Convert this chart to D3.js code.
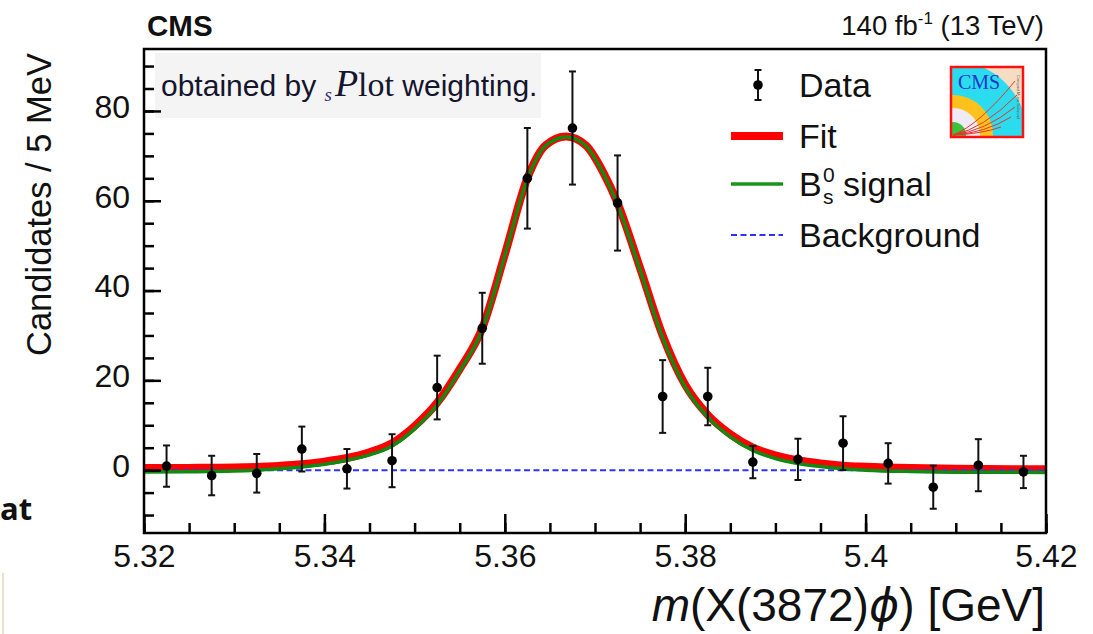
<!DOCTYPE html>
<html>
<head>
<meta charset="utf-8">
<script src="https://cdn.jsdelivr.net/npm/d3@7"></script>
<style>
    body { margin: 0; background: #fff; }
    svg text { font-family: "Liberation Sans", Arial, Helvetica, sans-serif; fill: #111; }
</style>
</head>
<body>
<div id="grafico-contenedor"></div>
<script>
/**************************************************
 * Data - sPlot weighted candidates (5 MeV bins)
***************************************************/
const massBins = [5.3225, 5.3275, 5.3325, 5.3375, 5.3425, 5.3475, 5.3525, 5.3575, 5.3625, 5.3675,
                  5.3725, 5.3775, 5.3825, 5.3875, 5.3925, 5.3975, 5.4025, 5.4075, 5.4125, 5.4175];
const candidates = [0.9, -1.2, -0.7, 4.7, 0.3, 2.1, 18.4, 31.6, 65.0, 76.2,
                    59.5, 16.4, 16.4, 1.8, 2.4, 6.0, 1.5, -3.8, 1.1, -0.4];
const candErrors = [4.6, 4.4, 4.3, 5.0, 4.4, 5.9, 7.1, 7.9, 11.2, 12.6,
                    10.6, 8.1, 6.4, 3.6, 4.6, 6.0, 4.5, 4.8, 5.8, 3.6];

// fit curves
const fitMass = [5.3200, 5.3250, 5.3300, 5.3350, 5.3375, 5.3400, 5.3425, 5.3450, 5.3475, 5.3500,
                 5.3525, 5.3550, 5.3575, 5.3600, 5.3625, 5.3645, 5.3668, 5.3690, 5.3710, 5.3725,
                 5.3750, 5.3775, 5.3800, 5.3825, 5.3850, 5.3875, 5.3900, 5.3925, 5.3950, 5.3975,
                 5.4000, 5.4050, 5.4100, 5.4200];
const fitValues = [0.45, 0.5, 0.6, 0.95, 1.3, 1.9, 2.7, 4.0, 6.0, 9.8,
                   15.0, 22.5, 31.6, 48.0, 65.0, 72.3, 74.3, 72.3, 66.0, 59.5,
                   45.0, 30.0, 19.0, 12.3, 8.0, 5.0, 3.3, 2.2, 1.5, 1.0,
                   0.75, 0.45, 0.3, 0.2];
const signalValues = [-0.4, -0.35, -0.2, 0.3, 0.7, 1.3, 2.2, 3.4, 5.4, 9.2,
                      14.5, 22.1, 31.3, 47.8, 64.8, 72.2, 74.2, 72.2, 65.8, 59.2,
                      44.6, 29.5, 18.5, 11.8, 7.4, 4.4, 2.6, 1.5, 0.8, 0.3,
                      0.0, -0.3, -0.45, -0.5];
const bkgMass = [5.32, 5.42];
const bkgValues = [0.0, 0.0];

// axis
const xTicks = [5.32, 5.34, 5.36, 5.38, 5.40, 5.42];
const xTickLabels = ["5.32", "5.34", "5.36", "5.38", "5.4", "5.42"];
const yTicks = [0, 20, 40, 60, 80];
const yTickLabels = ["0", "20", "40", "60", "80"];
const legendLabels = ["Data", "Fit", "signal", "Background"];

/**************************************************
 * Dimensions
***************************************************/
const width = 1093;
const height = 634;
const marginLeft = 144;
const marginRight = 47;
const marginTop = 49;
const marginBottom = 101;
const fontAxis = '"Liberation Sans", Arial, Helvetica, sans-serif';

const svg = d3.select("#grafico-contenedor")
    .append("svg")
    .attr("width", width)
    .attr("height", height)
    .style("display", "block");

svg.append("rect").attr("width", width).attr("height", height).attr("fill", "#fff");

/**************************************************
 * Scales
***************************************************/
const xScale = d3.scaleLinear()
    .domain([5.32, 5.42])
    .range([marginLeft, width - marginRight]);

const yScale = d3.scaleLinear()
    .domain([-14, 93.8])
    .range([height - marginBottom, marginTop]);

svg.append("clipPath").attr("id", "zona")
    .append("rect")
    .attr("x", marginLeft).attr("y", marginTop)
    .attr("width", width - marginLeft - marginRight)
    .attr("height", height - marginTop - marginBottom);

/**************************************************
 * sPlot note box
***************************************************/
svg.append("rect")
    .attr("x", 155).attr("y", 53)
    .attr("width", 386).attr("height", 65)
    .attr("fill", "#f4f4f4");

const nota = svg.append("text")
    .attr("x", 161).attr("y", 96)
    .style("font-size", "30px")
    .style("fill", "#15152e");
nota.append("tspan").text("obtained by ");
nota.append("tspan").attr("dy", 5)
    .style("font-family", '"Liberation Serif", serif')
    .style("font-style", "italic").style("font-size", "19px")
    .style("fill", "#3a2a7a").text("s");
nota.append("tspan").attr("dy", -5).attr("dx", 3)
    .style("font-family", '"Liberation Serif", serif')
    .style("font-style", "italic").style("font-size", "38px").text("P");
nota.append("tspan")
    .style("font-family", '"Liberation Serif", serif')
    .style("font-size", "34px").text("lot");
nota.append("tspan").text(" weighting.");

/**************************************************
 * Curves
***************************************************/
const linea = d3.line()
    .x(d => xScale(d[0]))
    .y(d => yScale(d[1]))
    .curve(d3.curveMonotoneX);

const curvas = svg.append("g").attr("clip-path", "url(#zona)");

curvas.append("path")
    .attr("d", linea(fitMass.map((m, i) => [m, fitValues[i]])))
    .attr("fill", "none").attr("stroke", "#ff0000").attr("stroke-width", 8);

curvas.append("path")
    .attr("d", linea(bkgMass.map((m, i) => [m, bkgValues[i]])))
    .attr("fill", "none").attr("stroke", "#3030ff").attr("stroke-width", 2)
    .attr("stroke-dasharray", "6,3.5");

curvas.append("path")
    .attr("d", linea(fitMass.map((m, i) => [m, signalValues[i]])))
    .attr("fill", "none").attr("stroke", "#118a11").attr("stroke-width", 3.5);

/**************************************************
 * Data points
***************************************************/
const puntos = svg.append("g").attr("id", "dotsGroup");
const capW = 3.5;

massBins.forEach((m, i) => {
    const x = xScale(m);
    const y1 = yScale(candidates[i] + candErrors[i]);
    const y0 = yScale(candidates[i] - candErrors[i]);
    puntos.append("line").attr("x1", x).attr("x2", x).attr("y1", y1).attr("y2", y0)
        .attr("stroke", "#111").attr("stroke-width", 2);
    [y0, y1].forEach(yc => {
        puntos.append("line").attr("x1", x - capW).attr("x2", x + capW)
            .attr("y1", yc).attr("y2", yc)
            .attr("stroke", "#111").attr("stroke-width", 2);
    });
    puntos.append("circle").attr("cx", x).attr("cy", yScale(candidates[i]))
        .attr("r", 4.8).attr("fill", "#000");
});

/**************************************************
 * Axes
***************************************************/
const xAxis = d3.axisBottom(xScale)
    .tickValues(xTicks)
    .tickFormat((d, i) => xTickLabels[i])
    .tickSize(-19).tickSizeOuter(0).tickPadding(11);

const xMinor = d3.axisBottom(xScale)
    .tickValues(d3.range(0, 21).map(k => 5.32 + k * 0.005))
    .tickFormat("").tickSize(-10).tickSizeOuter(0);

const yAxis = d3.axisLeft(yScale)
    .tickValues(yTicks)
    .tickFormat((d, i) => yTickLabels[i])
    .tickSize(-17).tickSizeOuter(0).tickPadding(14);

const yMinor = d3.axisLeft(yScale)
    .tickValues(d3.range(-10, 95, 5))
    .tickFormat("").tickSize(-10).tickSizeOuter(0);

const ejes = [
    [xMinor, `translate(0,${height - marginBottom})`],
    [xAxis, `translate(0,${height - marginBottom})`],
    [yMinor, `translate(${marginLeft},0)`],
    [yAxis, `translate(${marginLeft},0)`]
];
ejes.forEach(([ax, tr]) => {
    const g = svg.append("g").attr("transform", tr).call(ax);
    g.select(".domain").remove();
    g.selectAll("line").attr("stroke", "#000").attr("stroke-width", 2.5);
    g.selectAll("text").style("font-size", "32px").style("font-family", fontAxis).attr("fill", "#111");
    if (ax === yAxis) g.selectAll("text").attr("dy", "0.2em");
});

// frame
svg.append("rect")
    .attr("x", marginLeft).attr("y", marginTop)
    .attr("width", width - marginLeft - marginRight)
    .attr("height", height - marginTop - marginBottom)
    .attr("fill", "none").attr("stroke", "#000").attr("stroke-width", 2.5);

/**************************************************
 * Titles
***************************************************/
svg.append("text")
    .attr("transform", "translate(51,53) rotate(-90)")
    .attr("text-anchor", "end")
    .style("font-size", "34.5px")
    .text("Candidates / 5 MeV");

const xTitle = svg.append("text")
    .attr("x", 1045).attr("y", 621)
    .attr("text-anchor", "end")
    .style("font-size", "46px");
xTitle.append("tspan").style("font-style", "italic").text("m");
xTitle.append("tspan").text("(X(3872)");
xTitle.append("tspan").style("font-style", "italic").style("font-family", '"DejaVu Sans", sans-serif').text("ϕ");
xTitle.append("tspan").text(") [GeV]");

svg.append("text")
    .attr("x", 147).attr("y", 36)
    .style("font-size", "29.5px").style("font-weight", "bold")
    .text("CMS");

const lumi = svg.append("text")
    .attr("x", 1044).attr("y", 35)
    .attr("text-anchor", "end")
    .style("font-size", "27.5px");
lumi.append("tspan").text("140 fb");
lumi.append("tspan").attr("dy", -11).style("font-size", "17px").text("-1");
lumi.append("tspan").attr("dy", 11).text(" (13 TeV)");

/**************************************************
 * Legend
***************************************************/
const legend = svg.append("g").attr("id", "legend");
const legX0 = 731, legX1 = 783, legText = 799;
const legY = [85, 136, 184, 235];

// Data marker
legend.append("line").attr("x1", 758).attr("x2", 758).attr("y1", legY[0] - 15).attr("y2", legY[0] + 15)
    .attr("stroke", "#111").attr("stroke-width", 2);
[legY[0] - 15, legY[0] + 15].forEach(yc => legend.append("line")
    .attr("x1", 758 - capW).attr("x2", 758 + capW).attr("y1", yc).attr("y2", yc)
    .attr("stroke", "#111").attr("stroke-width", 2));
legend.append("circle").attr("cx", 758).attr("cy", legY[0]).attr("r", 4.8).attr("fill", "#000");

legend.append("line").attr("x1", legX0).attr("x2", legX1).attr("y1", legY[1]).attr("y2", legY[1])
    .attr("stroke", "#ff0000").attr("stroke-width", 8);
legend.append("line").attr("x1", legX0).attr("x2", legX1).attr("y1", legY[2]).attr("y2", legY[2])
    .attr("stroke", "#1b941b").attr("stroke-width", 3.5);
legend.append("line").attr("x1", legX0).attr("x2", legX1).attr("y1", legY[3]).attr("y2", legY[3])
    .attr("stroke", "#3030ff").attr("stroke-width", 2).attr("stroke-dasharray", "6,3.5");

legendLabels.forEach((lab, i) => {
    if (lab === "signal") {
        legend.append("text").attr("x", legText).attr("y", legY[i] + 12).style("font-size", "34px").text("B");
        legend.append("text").attr("x", 823).attr("y", legY[i] - 2).style("font-size", "21px").text("0");
        legend.append("text").attr("x", 823).attr("y", legY[i] + 20).style("font-size", "21px").text("s");
        legend.append("text").attr("x", 843).attr("y", legY[i] + 12).style("font-size", "34px").text(lab);
    } else {
        legend.append("text").attr("x", legText).attr("y", legY[i] + 12).style("font-size", "34px").text(lab);
    }
});

/**************************************************
 * CMS logo
***************************************************/
const logo = svg.append("g").attr("transform", "translate(951,67)");
logo.append("clipPath").attr("id", "logoClip")
    .append("rect").attr("width", 72).attr("height", 70);
const logoIn = logo.append("g").attr("clip-path", "url(#logoClip)");
logoIn.append("rect").attr("width", 72).attr("height", 70).attr("fill", "#f6dcc2");
[[74, "#2bdcee"], [40, "#ffc21c"], [27, "#eeeaf6"], [13, "#3bc43b"]].forEach(([r, c]) => {
    logoIn.append("circle").attr("cx", 2).attr("cy", 68).attr("r", r).attr("fill", c);
});
[[28, 58, 64, 14], [32, 62, 66, 28], [34, 64, 64, 40], [34, 66, 60, 50], [30, 67, 50, 60]].forEach(([cx, cy, ex, ey]) => {
    logoIn.append("path")
        .attr("d", `M2,68 Q${cx},${cy} ${ex},${ey}`)
        .attr("fill", "none").attr("stroke", "#e8352a").attr("stroke-width", 1);
});
logoIn.append("text").attr("x", 7).attr("y", 22)
    .style("font-family", '"Liberation Serif", serif').style("font-size", "20px")
    .style("fill", "#2236c8").text("CMS");
logoIn.append("text").attr("transform", "translate(66,8) rotate(90)")
    .style("font-size", "4px").style("fill", "#555").text("Compact Muon Solenoid");
logo.append("rect").attr("width", 72).attr("height", 70)
    .attr("fill", "none").attr("stroke", "#ff1010").attr("stroke-width", 2.5);

/**************************************************
 * Slide fragments at the left edge
***************************************************/
svg.append("text")
    .attr("x", 0).attr("y", 520)
    .style("font-family", '"Open Sans", "Noto Sans", sans-serif')
    .style("font-weight", "bold").style("font-size", "31px")
    .text("at");
svg.append("line").attr("x1", 3).attr("x2", 3).attr("y1", 573).attr("y2", 634)
    .attr("stroke", "#e6e1cc").attr("stroke-width", 2);
</script>
</body>
</html>
